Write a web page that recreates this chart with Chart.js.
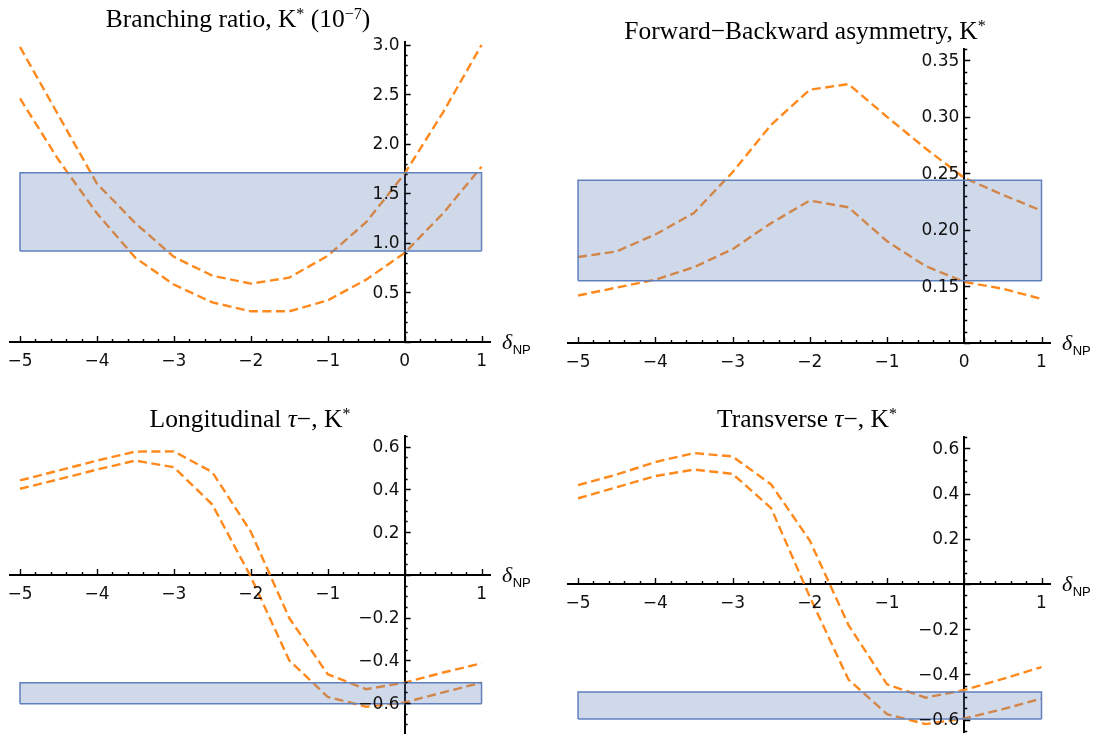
<!DOCTYPE html>
<html>
<head>
<meta charset="utf-8">
<script src="https://cdn.jsdelivr.net/npm/chart.js@4.4.1/dist/chart.umd.min.js"></script>
<style>
  html, body { margin: 0; padding: 0; background: #fff; }
  #wrap { position: relative; width: 1100px; height: 736px; }
  canvas { position: absolute; }
</style>
</head>
<body>
<div id="wrap">
  <canvas id="c1" width="550" height="368" style="left:0;top:0"></canvas>
  <canvas id="c2" width="550" height="368" style="left:550px;top:0"></canvas>
  <canvas id="c3" width="550" height="368" style="left:0;top:368px"></canvas>
  <canvas id="c4" width="550" height="368" style="left:550px;top:368px"></canvas>
</div>
<script>
// delta_NP values where the curves were sampled
const xVals = [-5, -4.5, -4, -3.5, -3, -2.5, -2, -1.5, -1, -0.5, 0, 0.5, 1];
const xTicksTop = [-5, -4, -3, -2, -1, 0, 1];
const xTicksBottom = [-5, -4, -3, -2, -1, 1];

// Branching ratio (10^-7)
const brUpper = [2.98, 2.29, 1.60, 1.20, 0.86, 0.67, 0.59, 0.65, 0.87, 1.21, 1.70, 2.32, 3.00];
const brLower = [2.46, 1.84, 1.30, 0.85, 0.58, 0.40, 0.31, 0.31, 0.42, 0.63, 0.90, 1.30, 1.77];
const brBand = [0.92, 1.71];
const brTicks = [0.5, 1.0, 1.5, 2.0, 2.5, 3.0];

// Forward-backward asymmetry
const fbUpper = [0.176, 0.181, 0.196, 0.215, 0.251, 0.293, 0.324, 0.329, 0.300, 0.272, 0.246, 0.231, 0.217];
const fbLower = [0.142, 0.149, 0.156, 0.167, 0.183, 0.206, 0.226, 0.220, 0.190, 0.168, 0.154, 0.148, 0.139];
const fbBand = [0.155, 0.244];
const fbTicks = [0.15, 0.20, 0.25, 0.30, 0.35];

// Longitudinal tau polarisation
const loUpper = [0.442, 0.488, 0.535, 0.577, 0.578, 0.481, 0.202, -0.202, -0.465, -0.535, -0.504, -0.457, -0.414];
const loLower = [0.403, 0.447, 0.493, 0.535, 0.504, 0.329, -0.008, -0.400, -0.571, -0.617, -0.597, -0.550, -0.504];
const loBand = [-0.603, -0.505];

// Transverse tau polarisation
const trUpper = [0.437, 0.484, 0.539, 0.579, 0.564, 0.440, 0.192, -0.181, -0.444, -0.503, -0.469, -0.420, -0.368];
const trLower = [0.379, 0.428, 0.477, 0.506, 0.487, 0.335, -0.057, -0.423, -0.576, -0.620, -0.595, -0.554, -0.507];
const trBand = [-0.598, -0.478];
const polTicks = [-0.6, -0.4, -0.2, 0.2, 0.4, 0.6];

const ORANGE = 'rgb(255,137,28)';
const TICK_FONT = '17px "DejaVu Sans"';
const minus = s => s.replace('-', '\u2212');

// Mathematica style axes: inward ticks, minor ticks, tick labels, delta_NP label, title
const mmaPlugin = {
  id: 'mma',
  afterDraw(chart, args, o) {
    const { ctx } = chart;
    const xs = chart.scales.x, ys = chart.scales.y;
    const px0 = xs.getPixelForValue(0);
    const py0 = ys.getPixelForValue(o.xAxisAt);
    ctx.save();
    ctx.strokeStyle = '#000';
    ctx.lineWidth = 1.4;
    ctx.beginPath();
    const steps = (min, max, step) => {
      const out = [];
      for (let k = Math.ceil(min / step - 1e-6); k <= Math.floor(max / step + 1e-6); k++) out.push(k * step);
      return out;
    };
    const isMajor = (v, m) => Math.abs(v / m - Math.round(v / m)) < 1e-6;
    steps(xs.min, xs.max, 0.2).forEach(v => {
      const p = Math.round(xs.getPixelForValue(v)) + 0.5;
      const len = isMajor(v, 1) ? 6 : 3;
      ctx.moveTo(p, py0);
      ctx.lineTo(p, py0 - len);
    });
    steps(ys.min, ys.max, o.yMinor).forEach(v => {
      const p = Math.round(ys.getPixelForValue(v)) + 0.5;
      const len = isMajor(v, o.yMajor) ? 6 : 3;
      ctx.moveTo(px0, p);
      ctx.lineTo(px0 + len, p);
    });
    ctx.stroke();

    // tick labels
    ctx.fillStyle = '#111';
    ctx.font = TICK_FONT;
    ctx.textAlign = 'center';
    ctx.textBaseline = 'alphabetic';
    o.xTicks.forEach(v => ctx.fillText(minus(String(v)), xs.getPixelForValue(v), py0 + 24));
    ctx.textAlign = 'right';
    ctx.textBaseline = 'middle';
    o.yTicks.forEach(v => ctx.fillText(minus(v.toFixed(o.dec)), px0 - 5, ys.getPixelForValue(v) + 1));

    // axis label delta_NP
    ctx.fillStyle = '#000';
    ctx.textBaseline = 'alphabetic';
    ctx.textAlign = 'left';
    ctx.font = 'italic 22px "Liberation Serif"';
    const lx = xs.right + 12;
    ctx.fillText('\u03b4', lx, py0 + 7);
    const dw = ctx.measureText('\u03b4').width;
    ctx.font = '13px "Liberation Sans"';
    ctx.fillText('NP', lx + dw + 0.5, py0 + 12);

    // title with superscripts
    const big = '25.5px "Liberation Serif"', small = '16px "Liberation Serif"';
    const fontOf = part => part.sup ? small : (part.it ? 'italic ' + big : big);
    let total = 0;
    o.title.forEach(part => { ctx.font = fontOf(part); total += ctx.measureText(part.t).width; });
    let tx = o.titleX - total / 2;
    o.title.forEach(part => {
      ctx.font = fontOf(part);
      ctx.fillText(part.t, tx, o.titleY - (part.sup ? 8 : 0));
      tx += ctx.measureText(part.t).width;
    });
    ctx.restore();
  }
};

function makePanel(id, p) {
  const pts = vals => xVals.map((x, i) => ({ x, y: vals[i] }));
  const x0 = xVals[0], x1 = xVals[xVals.length - 1];
  const BAND_EDGE = 'rgb(96,128,190)';
  const curve = vals => ({
    data: pts(vals),
    borderColor: ORANGE,
    borderWidth: 2.4,
    borderDash: [9, 4.5],
    pointRadius: 0,
    tension: 0,
    fill: false
  });
  new Chart(document.getElementById(id).getContext('2d'), {
    type: 'line',
    data: {
      datasets: [
        { // band: left, top and right edges, filled down to the bottom edge
          data: [{ x: x0, y: p.band[0] }, { x: x0, y: p.band[1] }, { x: x1, y: p.band[1] }, { x: x1, y: p.band[0] }],
          borderColor: BAND_EDGE,
          borderWidth: 1.5,
          backgroundColor: 'rgba(98,128,185,0.30)',
          pointRadius: 0,
          tension: 0,
          fill: '+1'
        },
        { // band bottom edge
          data: [{ x: x0, y: p.band[0] }, { x: x1, y: p.band[0] }],
          borderColor: BAND_EDGE,
          borderWidth: 1.5,
          pointRadius: 0,
          fill: false
        },
        curve(p.upper),
        curve(p.lower)
      ]
    },
    options: {
      responsive: false,
      animation: false,
      devicePixelRatio: 1,
      layout: { padding: p.pad },
      plugins: {
        legend: { display: false },
        tooltip: { enabled: false },
        mma: {
          xAxisAt: p.xAxisAt, yMajor: p.yMajor, yMinor: p.yMinor, dec: p.dec,
          xTicks: p.xTicks, yTicks: p.yTicks,
          title: p.title, titleX: p.titleX, titleY: p.titleY
        }
      },
      scales: {
        x: {
          type: 'linear',
          min: -5.13,
          max: 1.11,
          position: { y: p.xAxisAt },
          grid: { display: false },
          border: { display: true, color: '#000', width: 2 },
          ticks: { display: false },
          afterFit: s => { s.height = 0; }
        },
        y: {
          type: 'linear',
          min: p.yMin,
          max: p.yMax,
          position: { x: 0 },
          grid: { display: false },
          border: { display: true, color: '#000', width: 2 },
          ticks: { display: false },
          afterFit: s => { s.width = 0; }
        }
      }
    },
    plugins: [mmaPlugin]
  });
}

makePanel('c1', {
  upper: brUpper, lower: brLower, band: brBand,
  yMin: 0, yMax: 3.03, xAxisAt: 0, yTicks: brTicks, yMajor: 0.5, yMinor: 0.1, dec: 1,
  xTicks: xTicksTop,
  pad: { left: 10, right: 60, top: 42, bottom: 26 },
  title: [{ t: 'Branching ratio, K' }, { t: '*', sup: true }, { t: ' (10' }, { t: '\u22127', sup: true }, { t: ')' }],
  titleX: 238, titleY: 27
});
makePanel('c2', {
  upper: fbUpper, lower: fbLower, band: fbBand,
  yMin: 0.10, yMax: 0.36, xAxisAt: 0.10, yTicks: fbTicks, yMajor: 0.05, yMinor: 0.01, dec: 2,
  xTicks: xTicksTop,
  pad: { left: 18, right: 50, top: 49, bottom: 25 },
  title: [{ t: 'Forward\u2212Backward asymmetry, K' }, { t: '*', sup: true }],
  titleX: 255, titleY: 39
});
makePanel('c3', {
  upper: loUpper, lower: loLower, band: loBand,
  yMin: -0.74, yMax: 0.65, xAxisAt: 0, yTicks: polTicks, yMajor: 0.2, yMinor: 0.05, dec: 1,
  xTicks: xTicksBottom,
  pad: { left: 10, right: 60, top: 68, bottom: 3 },
  title: [{ t: 'Longitudinal ' }, { t: '\u03c4', it: true }, { t: '\u2212, K' }, { t: '*', sup: true }],
  titleX: 250, titleY: 59
});
makePanel('c4', {
  upper: trUpper, lower: trLower, band: trBand,
  yMin: -0.655, yMax: 0.65, xAxisAt: 0, yTicks: polTicks, yMajor: 0.2, yMinor: 0.05, dec: 1,
  xTicks: xTicksBottom,
  pad: { left: 18, right: 50, top: 69, bottom: 4 },
  title: [{ t: 'Transverse ' }, { t: '\u03c4', it: true }, { t: '\u2212, K' }, { t: '*', sup: true }],
  titleX: 257, titleY: 59
});
</script>
</body>
</html>
